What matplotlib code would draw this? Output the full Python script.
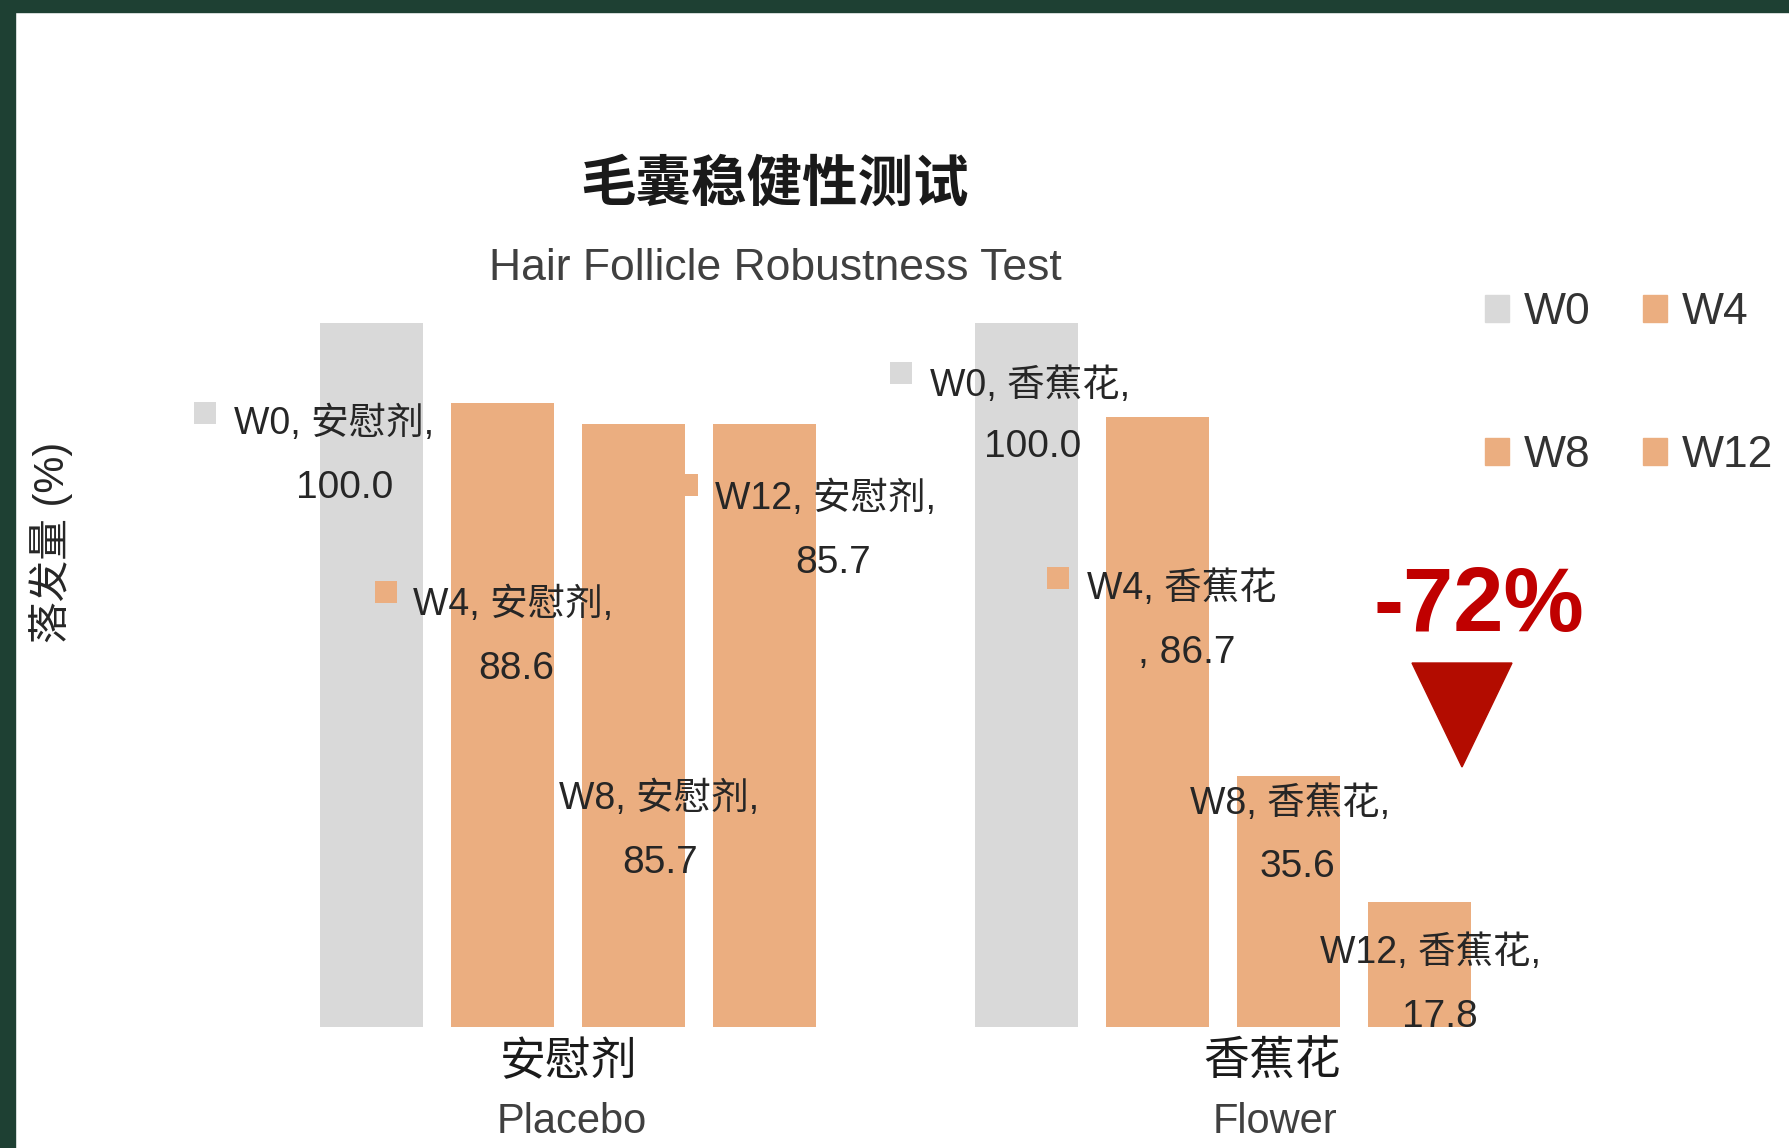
import matplotlib
matplotlib.use("Agg")
import matplotlib.pyplot as plt
from matplotlib.patches import Patch, Rectangle, Polygon
from matplotlib.transforms import offset_copy

plt.rcParams["font.family"] = ["Liberation Sans", "Noto Sans CJK SC", "DejaVu Sans"]

# data
groups_cn = ["安慰剂", "香蕉花"]
groups_en = ["Placebo", "Flower"]
weeks = ["W0", "W4", "W8", "W12"]
placebo = [100.0, 88.6, 85.7, 85.7]
flower = [100.0, 86.7, 35.6, 17.8]
values = [placebo, flower]
week_colors = ["#D9D9D9", "#EBAE80", "#EBAE80", "#EBAE80"]
change_label = "-72%"

# label layout: pixel offsets (dx, dy-down) from each bar top
# marker, first line (left edge), value (centre)
label_offsets = [
    [((-167, 90), (-138, 101), (-27, 165)),
     ((-117, 189), (-90, 202), (13, 266)),
     ((-104, 364), (-75, 375), (26, 439)),
     ((-78, 61), (-50, 75), (68, 139))],
    [((-126, 50), (-97, 63), (6, 124)),
     ((-100, 161), (-71, 172), (29, 236)),
     ((-128, 16), (-99, 27), (9, 91)),
     ((-129, 40), (-100, 51), (20, 115))],
]
# Excel put the comma on the value line for one label
comma_on_value = [[False] * 4, [False, True, False, False]]

W, H = 1789, 1148
fig = plt.figure(figsize=(W / 100, H / 100), dpi=100)
fig.patch.set_facecolor("white")

ax = fig.add_axes([0, 1 - 1027 / H, 1, 704 / H])
ax.set_xlim(-2.84, 10.82)
ax.set_ylim(0, 100)
ax.axis("off")

slots_per_group = len(weeks) + 1
for g, vals in enumerate(values):
    xs = [g * slots_per_group + j for j in range(len(weeks))]
    ax.bar(xs, vals, width=0.786, color=week_colors, zorder=2)
    for j, (x, v) in enumerate(zip(xs, vals)):
        (mdx, mdy), (tdx, tdy), (vdx, vdy) = label_offsets[g][j]
        mtr = offset_copy(ax.transData, fig=fig, x=mdx, y=-mdy, units="dots")
        ax.plot([x], [v], marker="s", ms=16.5, color=week_colors[j], mew=0,
                transform=mtr, zorder=3, clip_on=False)
        if comma_on_value[g][j]:
            line1, line2 = f"{weeks[j]}, {groups_cn[g]}", f", {v:.1f}"
        else:
            line1, line2 = f"{weeks[j]}, {groups_cn[g]},", f"{v:.1f}"
        ax.annotate(line1, (x, v), xytext=(tdx, -tdy), textcoords="offset pixels",
                    ha="left", va="center", fontsize=27, color="#262626", zorder=4)
        ax.annotate(line2, (x, v), xytext=(vdx, -vdy), textcoords="offset pixels",
                    ha="center", va="center", fontsize=28, color="#262626", zorder=4)
    center = (xs[0] + xs[-1]) / 2
    shift = 0 if g == 0 else 49
    ax.annotate(groups_cn[g], (center, 0), xytext=(shift, -36), textcoords="offset pixels",
                ha="center", va="center", fontsize=33, color="#1a1a1a")
    ax.annotate(groups_en[g], (center, 0), xytext=(shift + 3, -95), textcoords="offset pixels",
                ha="center", va="center", fontsize=30, color="#404040")

# titles
fig.text(774 / W, 1 - 186 / H, "毛囊稳健性测试", ha="center", va="center",
         fontsize=40, fontweight="bold", color="#1a1a1a")
fig.text(775 / W, 1 - 269 / H, "Hair Follicle Robustness Test", ha="center", va="center",
         fontsize=32, color="#404040")
fig.text(51 / W, 1 - 542 / H, "落发量 (%)", ha="center", va="center", rotation=90,
         fontsize=30, color="#262626")

# change callout
fig.text(1479 / W, 1 - 608 / H, change_label, ha="center", va="center",
         fontsize=65, fontweight="bold", color="#C00000")
tri = Polygon([(1412 / W, 1 - 663 / H), (1512 / W, 1 - 663 / H), (1462 / W, 1 - 767 / H)],
              closed=True, transform=fig.transFigure, color="#B30C00", zorder=5)
fig.patches.append(tri)

# legend (rows W0 W4 / W8 W12)
handles = [Patch(color=c, label=w) for w, c in zip(weeks, week_colors)]
order = [0, 2, 1, 3]
fig.legend([handles[i] for i in order], [weeks[i] for i in order], ncol=2,
           loc="upper left", bbox_to_anchor=(1485 / W, 1 - 292 / H), frameon=False,
           fontsize=32, handlelength=0.54, handleheight=0.54, handletextpad=0.34,
           columnspacing=1.17, labelspacing=2.3, borderpad=0, borderaxespad=0,
           labelcolor="#333333")

# dark green frame of the screenshot
frame = "#1E4033"
fig.patches.append(Rectangle((0, 1 - 12 / H), 1, 12 / H, transform=fig.transFigure,
                             color=frame, zorder=10))
fig.patches.append(Rectangle((0, 0), 15 / W, 1, transform=fig.transFigure,
                             color=frame, zorder=10))

fig.savefig("out.png", dpi=100)
